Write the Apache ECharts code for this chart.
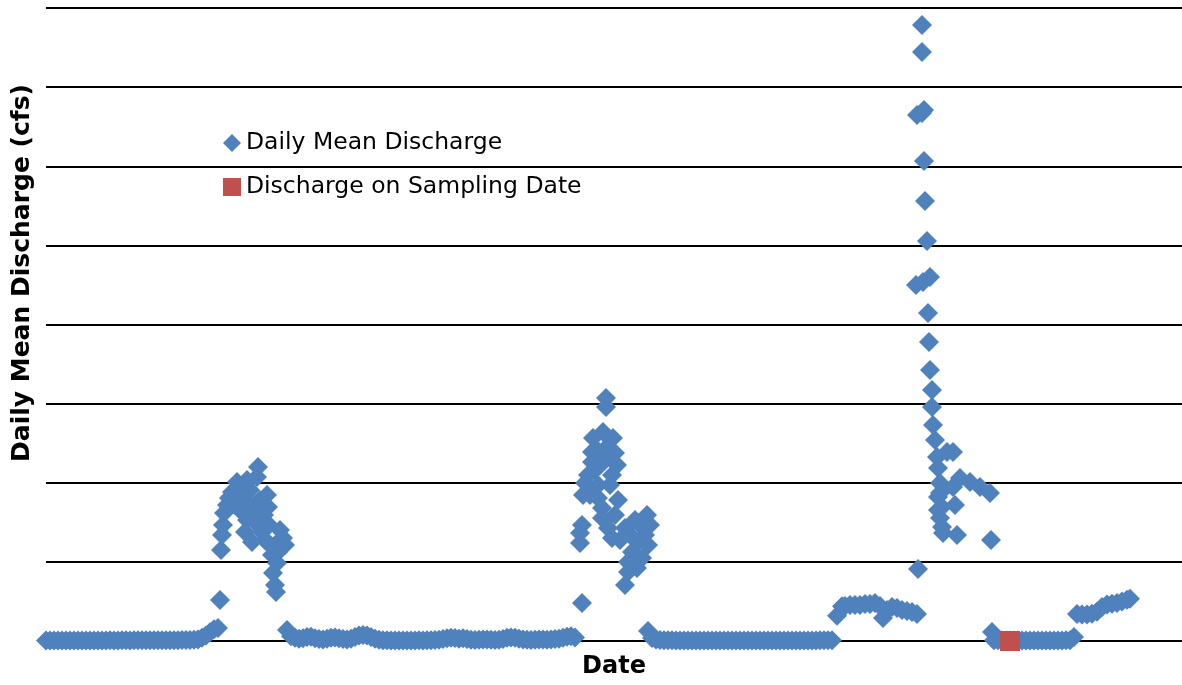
<!DOCTYPE html>
<html><head><meta charset="utf-8">
<script src="https://cdn.jsdelivr.net/npm/echarts/dist/echarts.min.js"></script>
<style>html,body{margin:0;padding:0;background:#fff}#c{width:1182px;height:685px}</style>
</head><body><div id="c"></div>
<script>
// Day index (days from start of record) and daily mean discharge (cfs)
const seg1Days=[0,4,8,12,16,20,24,28,32,36,40,44,48,52,56,60,64,68,72,76,80,84,88,92,96,100,104,108,112,116,120,124,128,132,136,140,144,148,152];
const seg1Flow=[6,5,5,6,5,5,6,6,5,5,6,6,7,6,6,7,8,7,7,8,8,7,8,9,8,8,9,10,9,9,10,10,11,10,12,12,14,16,20];
const rise1Days=[156,160,164,168,172,174];
const rise1Flow=[40,70,110,150,165,518];
const storm1Days=[175,176,177,178,181,183,186,189,191,194,196,199,201,204,206,209,211,212,214,216,218,221,222,223,224,226,227,229,230,231,232,237,239,199,194,204,209,216,219,201,229,234];
const storm1Flow=[1150,1340,1466,1618,1719,1807,1883,1719,2009,1934,1845,1378,1529,1630,1251,1504,2073,2199,1782,1378,1592,1845,1693,1466,1213,1087,859,708,619,986,1125,1302,1213,1782,1656,1908,1719,1529,1276,2035,1213,1403];
const seg2Days=[241,245,249,253,257,261,265,269,273,277,281,285,289,293,297,301,305,309,313,317,321,325,329,333,337,341,345,349,353,357,361,365,369,373,377,381,385,389,393,397,401,405,409,413,417,421,425,429,433,437,441,445,449,453,457,461,465,469,473,477,481,485,489,493,497,501,505,509,513,517,521,525,529];
const seg2Flow=[139,60,40,30,35,50,55,35,25,20,30,40,45,35,25,20,30,50,70,75,70,50,30,15,10,8,7,6,6,7,6,6,7,8,7,8,10,12,15,25,35,40,38,30,35,25,15,12,15,20,18,15,12,15,25,40,45,40,30,20,15,12,15,20,18,15,20,25,30,40,55,60,45];
const storm2Days=[534,534,536,536,537,539,542,546,546,547,552,552,554,556,556,557,560,560,561,562,566,566,567,569,571,572,579,579,582,582,586,591,592,596,599,601,602,604,551,559,549,564,544,559,569,584,594,589,574];
const storm2Flow=[1238,1365,1466,480,1845,1997,2098,2262,2389,2566,1972,1807,2224,1681,1554,2641,3071,2957,2452,1428,2098,1302,2566,2376,2224,1782,1428,708,998,872,1125,923,1251,1049,1340,1592,1213,1466,2414,2287,2161,1972,1845,1529,1592,1340,1466,1529,1276];
const seg3Days=[602,606,610,614,618,622,626,630,634,638,642,646,650,654,658,662,666,670,674,678,682,686,690,694,698,702,706,710,714,718,722,726,730,734,738,742,746,750,754,758,762,766,770,774,778,782,786];
const seg3Flow=[126,38,20,12,10,8,8,7,7,6,6,6,6,6,6,6,5,5,5,5,6,6,6,6,6,6,6,5,5,5,5,5,5,6,6,6,6,6,6,7,7,7,7,8,8,9,10];
const plateauDays=[791,796,799,804,809,814,819,824,829,834,837,841,846,851,856,861,866,871,872];
const plateauFlow=[320,440,442,455,455,455,468,468,480,442,291,392,430,417,392,379,366,341,910];
const storm3Days=[871,876,876,876,878,878,879,881,870,877,884,882,883,884,886,886,887,889,901,907,891,892,914,924,934,944,894,907,894,892,909,896,892,894,896,897,911,945];
const storm3Flow=[6648,7785,7444,6673,6711,6066,5561,5055,4499,4537,4600,4145,3779,3425,3172,2957,2730,2540,2389,2389,2325,2186,2060,2009,1946,1870,1997,1946,1870,1820,1719,1693,1656,1554,1441,1365,1340,1276];
const seg4Days=[946,948,952,956,960,964,968,972,976,980,984,988,992,996,1000,1004,1008,1012,1016,1020,1024,1028];
const seg4Flow=[114,10,8,7,6,6,6,5,5,5,5,5,5,5,6,6,6,6,7,8,10,50];
const rise2Days=[1031,1036,1041,1046,1051,1056,1061,1066,1071,1076,1081,1084];
const rise2Flow=[340,335,335,345,370,430,460,470,480,500,520,535];
// Sampling date
const sampleDays=[964];
const sampleFlow=[0];

const blue=[];
[[seg1Days,seg1Flow],[rise1Days,rise1Flow],[storm1Days,storm1Flow],[seg2Days,seg2Flow],[storm2Days,storm2Flow],[seg3Days,seg3Flow],[plateauDays,plateauFlow],[storm3Days,storm3Flow],[seg4Days,seg4Flow],[rise2Days,rise2Flow]].forEach(function(p){
  for(let i=0;i<p[0].length;i++) blue.push([p[0][i],p[1][i]]);
});
const red=sampleDays.map(function(d,i){return [d,sampleFlow[i]];});

const chart=echarts.init(document.getElementById('c'),null,{renderer:'canvas'});
chart.setOption({
  animation:false,
  backgroundColor:'#fff',
  grid:{left:46,right:0,top:8,bottom:44,containLabel:false,outerBoundsMode:'none'},
  xAxis:{type:'value',min:0,max:1136,name:'Date',nameLocation:'middle',nameGap:14,
    nameTextStyle:{fontFamily:'DejaVu Sans',fontWeight:'bold',fontSize:24,color:'#000'},
    axisLine:{show:false},axisTick:{show:false},axisLabel:{show:false},splitLine:{show:false}},
  yAxis:{type:'value',min:0,max:8000,interval:1000,
    axisLine:{show:false},axisTick:{show:false},axisLabel:{show:false},
    splitLine:{show:true,lineStyle:{color:'#000',width:2}}},
  legend:{orient:'vertical',left:223,top:131,padding:0,itemWidth:18,itemHeight:18,itemGap:20,
    textStyle:{fontFamily:'DejaVu Sans',fontSize:23.5,color:'#000'},
    data:[{name:'Daily Mean Discharge',icon:'diamond'},{name:'Discharge on Sampling Date',icon:'rect'}]},
  graphic:[{type:'text',x:22,y:273,rotation:Math.PI/2,
    style:{text:'Daily Mean Discharge (cfs)',font:'bold 25px "DejaVu Sans"',fill:'#000',align:'center',verticalAlign:'middle'}}],
  series:[
    {name:'Daily Mean Discharge',type:'scatter',symbol:'diamond',symbolSize:20,clip:false,
      itemStyle:{color:'#4F81BD',opacity:1},data:blue},
    {name:'Discharge on Sampling Date',type:'scatter',symbol:'rect',symbolSize:20,clip:false,
      itemStyle:{color:'#C0504D',opacity:1},data:red,z:3}
  ]
});
</script></body></html>
